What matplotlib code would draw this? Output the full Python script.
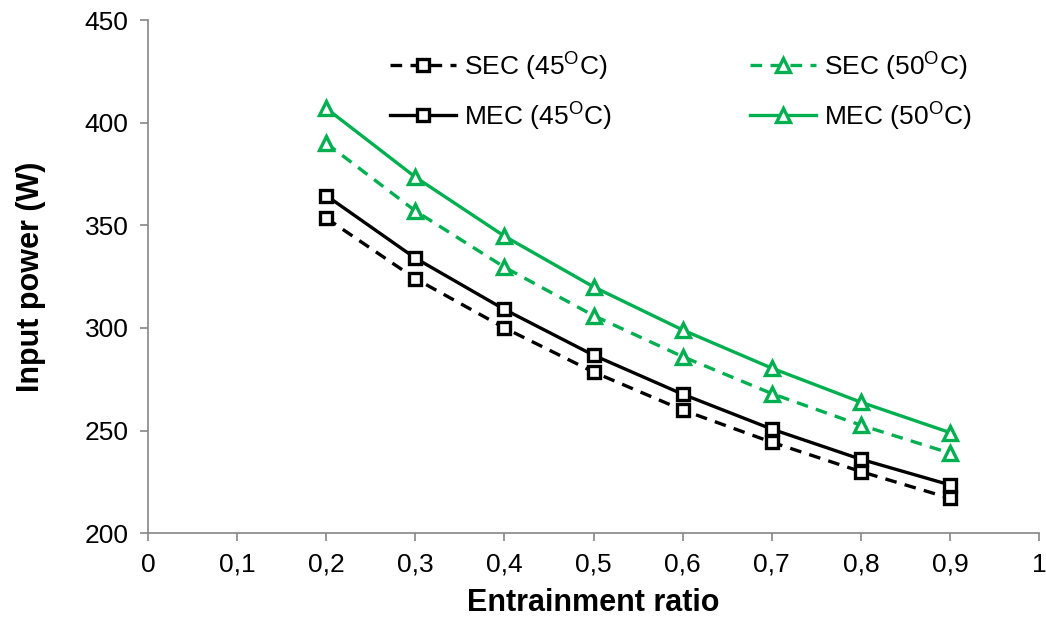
import matplotlib
matplotlib.use("Agg")
from matplotlib import pyplot as plt

plt.rcParams["font.family"] = ["Liberation Sans", "DejaVu Sans"]
plt.rcParams["mathtext.fontset"] = "custom"
plt.rcParams["mathtext.rm"] = "Liberation Sans"

# entrainment ratio
ratio = [0.2, 0.3, 0.4, 0.5, 0.6, 0.7, 0.8, 0.9]

# input power (W)
sec_45 = [353.5, 324, 300, 278.5, 260, 244.3, 230, 217]
mec_45 = [364.5, 334, 309, 286.7, 267.7, 250.7, 236, 223.5]
sec_50 = [390, 357, 329.6, 306, 286, 268, 252.6, 239]
mec_50 = [407, 373.5, 344.7, 320, 299, 280.4, 263.8, 249]

xticks = [0, 0.1, 0.2, 0.3, 0.4, 0.5, 0.6, 0.7, 0.8, 0.9, 1]
xlabels = ["0", "0,1", "0,2", "0,3", "0,4", "0,5", "0,6", "0,7", "0,8", "0,9", "1"]
yticks = [200, 250, 300, 350, 400, 450]

green = "#00B050"
gray = "#868686"

fig = plt.figure(figsize=(10.46, 6.28), dpi=100)
ax = fig.add_axes([0.1415, 0.151, 0.852, 0.817])

lw = 2.4
ms = 9
ax.plot(ratio, sec_45, "--", color="black", lw=lw, marker="s", ms=ms,
        mfc="white", mec="black", mew=2.4, dashes=(3.5, 2.5),
        label=r"SEC (45$^{\mathrm{O}}$C)")
ax.plot(ratio, mec_45, "-", color="black", lw=lw, marker="s", ms=ms,
        mfc="white", mec="black", mew=2.4,
        label=r"MEC (45$^{\mathrm{O}}$C)")
ax.plot(ratio, sec_50, "--", color=green, lw=lw, marker="^", ms=ms + 1,
        mfc="white", mec=green, mew=2.4, dashes=(3.5, 2.5),
        label=r"SEC (50$^{\mathrm{O}}$C)")
ax.plot(ratio, mec_50, "-", color=green, lw=lw, marker="^", ms=ms + 1,
        mfc="white", mec=green, mew=2.4,
        label=r"MEC (50$^{\mathrm{O}}$C)")

ax.set_xlim(0, 1)
ax.set_ylim(200, 450)
ax.set_xticks(xticks)
ax.set_xticklabels(xlabels)
ax.set_yticks(yticks)

for side in ["top", "right"]:
    ax.spines[side].set_visible(False)
for side in ["left", "bottom"]:
    ax.spines[side].set_color(gray)
    ax.spines[side].set_linewidth(1.2)
ax.tick_params(axis="both", direction="out", length=6, width=1.2, color=gray,
               labelsize=19, pad=8)

ax.set_xlabel("Entrainment ratio", fontsize=22, fontweight="bold", labelpad=8)
ax.set_ylabel("Input power (W)", fontsize=22, fontweight="bold", labelpad=28)

ax.legend(loc="upper left", bbox_to_anchor=(0.350, 0.96), bbox_transform=fig.transFigure,
          ncol=2, frameon=False, fontsize=19, handlelength=2.5,
          columnspacing=5.25, labelspacing=0.65, handletextpad=0.3)

fig.savefig("out.png", dpi=100)
